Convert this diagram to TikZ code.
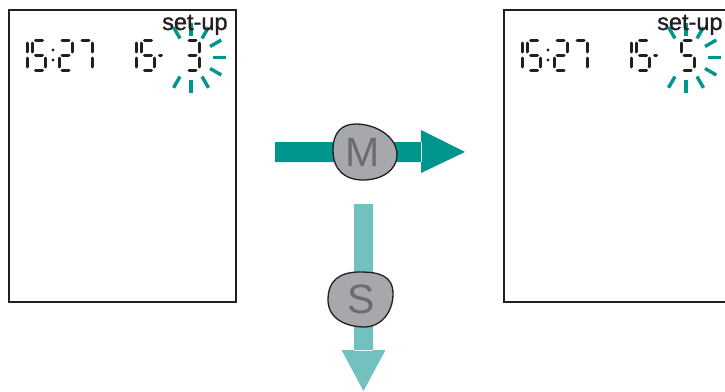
\documentclass[tikz,border=0pt]{standalone}
\usepackage{fontspec}
\setmainfont{Liberation Sans}
\newfontfamily\setupfont[FakeBold=1.2]{Liberation Sans}
\definecolor{ink}{RGB}{35,31,32}
\definecolor{tealA}{RGB}{0,149,141}
\definecolor{tealB}{RGB}{115,193,191}
\definecolor{keygrey}{RGB}{167,168,172}
\definecolor{keytext}{RGB}{108,108,110}
% seven-segment helpers: #1 = left x of the digit cell
\newcommand\dseg[5]{\draw[segline,shift={(#1,40)}] (#2,#3) -- (#4,#5);}
\newcommand\segA[1]{\dseg{#1}{3}{0}{10}{0}}
\newcommand\segB[1]{\dseg{#1}{13}{3}{13}{12}}
\newcommand\segC[1]{\dseg{#1}{13}{18}{13}{27}}
\newcommand\segD[1]{\dseg{#1}{3}{30}{10}{30}}
\newcommand\segE[1]{\dseg{#1}{0}{18}{0}{27}}
\newcommand\segF[1]{\dseg{#1}{0}{3}{0}{12}}
\newcommand\segG[1]{\dseg{#1}{3}{15}{10}{15}}
\newcommand\digOne[1]{\segB{#1}\segC{#1}}
\newcommand\digTwo[1]{\segA{#1}\segB{#1}\segG{#1}\segE{#1}\segD{#1}}
\newcommand\digThree[1]{\segA{#1}\segB{#1}\segG{#1}\segC{#1}\segD{#1}}
\newcommand\digFive[1]{\segA{#1}\segF{#1}\segG{#1}\segC{#1}\segD{#1}}
\newcommand\digSeven[1]{\segA{#1}\segB{#1}\segC{#1}}
% one display line: #1 = horizontal offset, #2 = last digit macro
\newcommand\displayline[2]{%
  \begin{scope}[xshift=#1]
    \digOne{14}\digFive{32.5}
    \fill[ink] (53,50) circle (1.7) (53,60) circle (1.7);
    \digTwo{59}\digSeven{79}
    \digOne{123}\digFive{141.5}
    \draw[segline] (159.5,55) -- (161.5,55);
    #2{186}
    \foreach \a in {120,90,60,30,0,-30,-60,-90,-120}
      \draw[ray] ($(191,57.5)+(\a:22)$) -- ($(191,57.5)+(\a:35)$);
  \end{scope}}
\usetikzlibrary{calc}
\begin{document}
\begin{tikzpicture}[x=1pt,y=-1pt,
  frame/.style={draw=ink, line width=2pt, inner sep=0pt, outer sep=0pt, anchor=north west},
  segline/.style={draw=ink, line width=3pt, line cap=round},
  ray/.style={draw=tealA, line width=3.4pt},
  keyblob/.style={fill=keygrey, draw=ink, line width=1.3pt},
  keylabel/.style={text=keytext, font=\fontsize{41}{41}\selectfont, inner sep=0pt},
  setuptext/.style={font=\setupfont\fontsize{23.5}{24}\selectfont, text=ink, inner sep=0pt, anchor=base west}]
\useasboundingbox (0,0) rectangle (725,391);

% screens
\node[frame, minimum width=227pt, minimum height=292pt] (screenA) at (9,10) {};
\node[frame, minimum width=240pt, minimum height=292pt] (screenB) at (504,10) {};

% display contents
\displayline{0pt}{\digThree}
\displayline{495pt}{\digFive}
\node[setuptext] (setupA) at (162,30) {set-up};
\node[setuptext] (setupB) at (657,30) {set-up};

% M arrow (to the right)
\coordinate (mtail) at (275,152);
\coordinate (mtip) at (465,152);
\fill[tealA, shift={(mtail)}] (0,-10) rectangle (147,10)
  (146,-22) -- (190,0) -- (146,21) -- cycle;
% S arrow (downwards)
\coordinate (stail) at (363.5,204);
\coordinate (stip) at (363.5,391);
\fill[tealB, shift={(stail)}] (-9.5,0) rectangle (9.5,147)
  (-22,146) -- (22,146) -- (0,187) -- cycle;

% keys
\draw[keyblob] (333,150) .. controls (333,132) and (342,124) .. (356,124)
  .. controls (375,124) and (397,136) .. (397,155)
  .. controls (397,170) and (382,180) .. (363,180)
  .. controls (345,180) and (333,170) .. (333,150) -- cycle;
\node[keylabel] (mkey) at (363,152) {M};
\draw[keyblob] (328,300) .. controls (328,280) and (340,272) .. (360,272)
  .. controls (380,272) and (393,276) .. (393,294)
  .. controls (393,313) and (380,327) .. (365,327)
  .. controls (345,327) and (328,318) .. (328,300) -- cycle;
\node[keylabel] (skey) at (361.5,299) {S};
\end{tikzpicture}
\end{document}
